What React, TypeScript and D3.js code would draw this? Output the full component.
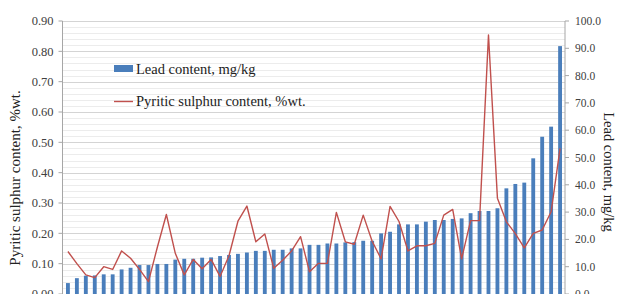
import React from 'react';
import * as d3 from 'd3';

// samples sorted by lead content
const samples = d3.range(1, 57).map(String);

const leadContent = [
  4.0, 5.8, 6.7, 6.8, 7.2, 7.2, 9.0, 9.6, 10.6, 10.6,
  11.0, 11.0, 12.6, 12.9, 12.9, 13.3, 13.4, 13.9, 14.3, 14.7,
  15.2, 15.8, 15.8, 16.2, 16.2, 16.7, 16.7, 18.0, 18.0, 18.5,
  18.5, 18.9, 19.0, 19.5, 19.5, 22.2, 22.8, 25.5, 25.5, 25.5,
  26.5, 27.1, 27.1, 27.5, 27.7, 29.6, 30.4, 30.4, 31.4, 38.7,
  40.3, 40.8, 49.7, 57.6, 61.3, 90.8,
];

const pyriticSulphur = [
  0.14, 0.10, 0.063, 0.054, 0.09, 0.081, 0.142, 0.118, 0.081, 0.041,
  0.155, 0.262, 0.134, 0.063, 0.114, 0.083, 0.114, 0.058, 0.126, 0.24,
  0.29, 0.172, 0.198, 0.085, 0.111, 0.142, 0.189, 0.073, 0.101, 0.101,
  0.269, 0.172, 0.164, 0.26, 0.174, 0.116, 0.289, 0.239, 0.142, 0.159,
  0.159, 0.167, 0.26, 0.279, 0.116, 0.242, 0.242, 0.854, 0.316, 0.238,
  0.199, 0.152, 0.2, 0.211, 0.271, 0.48,
];

const leftTicks = [0, 0.1, 0.2, 0.3, 0.4, 0.5, 0.6, 0.7, 0.8, 0.9];
const rightTicks = [0, 10, 20, 30, 40, 50, 60, 70, 80, 90, 100];
const minorTicks = d3.range(0, 0.901, 0.02);

const W = 618, H = 294;
const left = 62.5, right = 565, top = 21, bottom = 294;

export default function App() {
  const x = d3.scaleBand<string>().domain(samples).range([63.5, 564.5]).paddingInner(0.57).paddingOuter(0.28);
  const yL = d3.scaleLinear().domain([0, 0.9]).range([bottom, top]);
  const yR = d3.scaleLinear().domain([0, 100]).range([bottom, top]);

  const line = d3.line<number>()
    .x((_, i) => (x(samples[i]) as number) + x.bandwidth() / 2)
    .y(d => yL(d));

  const serif = '"Liberation Serif", "Times New Roman", serif';

  return (
    <svg width={W} height={H} style={{ position: 'absolute', left: 0, top: 0, background: '#fff' }} fontFamily={serif}>
      {/* grid */}
      {minorTicks.map((t, i) => (
        <line key={'m' + i} x1={left} x2={right} y1={Math.round(yL(t)) + 0.5} y2={Math.round(yL(t)) + 0.5} stroke="#ececec" strokeWidth={1} />
      ))}
      {leftTicks.map(t => (
        <line key={'g' + t} x1={left} x2={right} y1={Math.round(yL(t)) + 0.5} y2={Math.round(yL(t)) + 0.5} stroke="#d4d4d4" strokeWidth={1.2} />
      ))}

      {/* bars */}
      {leadContent.map((v, i) => (
        <rect key={i} x={x(samples[i])} y={yR(v)} width={x.bandwidth()} height={bottom - yR(v)} fill="#4a7ebb" />
      ))}

      {/* line */}
      <path d={line(pyriticSulphur) || ''} fill="none" stroke="#c0504d" strokeWidth={1.4} strokeLinejoin="round" />

      {/* left axis */}
      <line x1={left} x2={left} y1={top} y2={bottom} stroke="#a6a6a6" />
      {leftTicks.map(t => (
        <g key={'l' + t} transform={`translate(0,${yL(t)})`}>
          <line x1={left - 4} x2={left} stroke="#a6a6a6" />
          <text x={53.5} dy="0.35em" textAnchor="end" fontSize={12.5} fill="#404040" fontFamily={serif}>{t.toFixed(2)}</text>
        </g>
      ))}

      {/* right axis */}
      <line x1={right} x2={right} y1={top} y2={bottom} stroke="#a6a6a6" />
      {rightTicks.map(t => (
        <g key={'r' + t} transform={`translate(0,${yR(t)})`}>
          <line x1={right} x2={right + 4} stroke="#a6a6a6" />
          <text x={575} dy="0.35em" textAnchor="start" fontSize={11.5} fill="#404040" fontFamily={serif}>{t.toFixed(1)}</text>
        </g>
      ))}

      {/* axis titles */}
      <text transform="translate(20,178) rotate(-90)" textAnchor="middle" fontSize={15} fill="#222">
        Pyritic sulphur content, %wt.
      </text>
      <text transform="translate(604,172) rotate(90)" textAnchor="middle" fontSize={14.5} fill="#222">
        Lead content, mg/kg
      </text>

      {/* legend */}
      <rect x={114} y={65} width={19} height={7} fill="#4a7ebb" />
      <text x={136} y={73.5} fontSize={14.5} fill="#222">Lead content, mg/kg</text>
      <line x1={114} x2={133} y1={101.5} y2={101.5} stroke="#c0504d" strokeWidth={1.4} />
      <text x={136} y={106} fontSize={14.5} fill="#222">Pyritic sulphur content, %wt.</text>
    </svg>
  );
}
